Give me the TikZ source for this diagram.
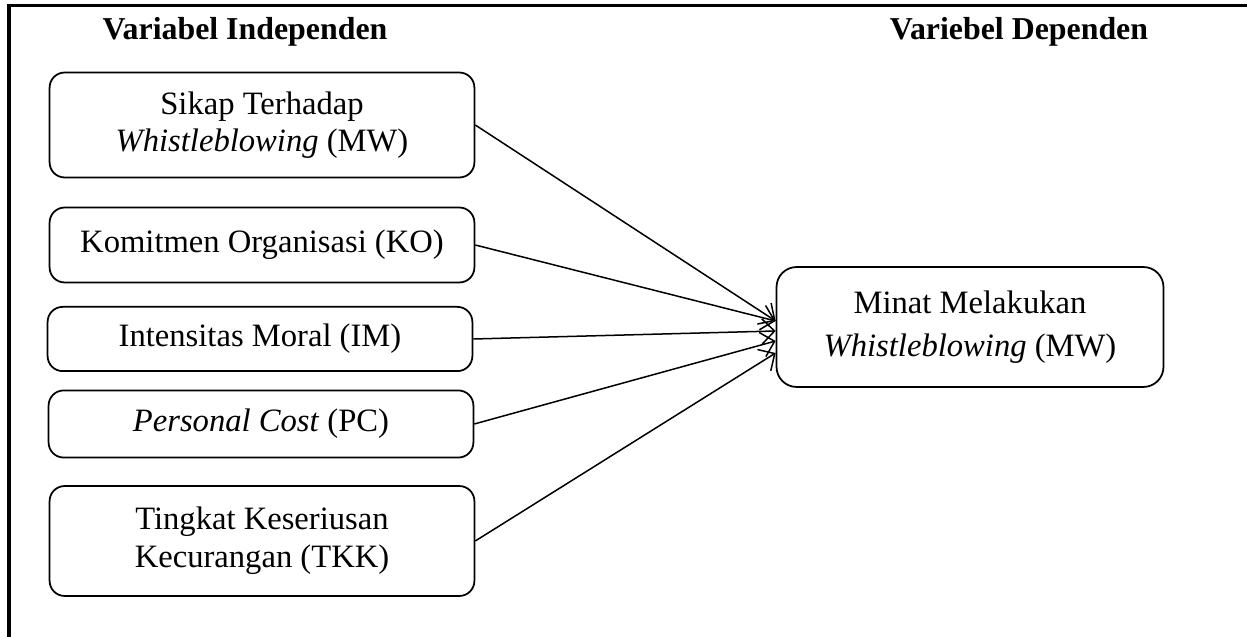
\documentclass[tikz,border=0pt]{standalone}
\usepackage{fontspec}
\setmainfont{Liberation Serif}
\usetikzlibrary{arrows.meta}
\tikzset{
    var/.style = {
        draw, rectangle, rounded corners=6pt, align=center,
        line width=0.7pt,
        inner sep=0,
        minimum width=5.95cm,
        font=\fontsize{13}{15}\selectfont
    },
    head/.style = {
        anchor=base, inner sep=0,
        font=\fontsize{12.7}{15}\selectfont\bfseries
    },
    link/.style = {
        -{Straight Barb[length=5pt,width=10pt]}, line width=0.6pt
    }
}

\begin{document}
\begin{tikzpicture}[x=0.014cm,y=-0.014cm]

% 1. page and frame
\useasboundingbox (0,0) rectangle (1247,637);
\draw[line width=1.2pt] (9,637) -- (9,5.5) -- (1247,5.5);

% 2. headings
\node[head] (hind) at (245,40) {Variabel Independen};
\node[head] (hdep) at (1019,40) {Variebel Dependen};

% 3. variable boxes
\node[var,minimum height=1.47cm] (SW)  at (262,125) {Sikap Terhadap\\ \textit{Whistleblowing} (MW)};
\node[var,minimum height=1.05cm] (KO)  at (262,245) {Komitmen Organisasi (KO)};
\node[var,minimum height=0.9cm]  (IM)  at (260,339) {Intensitas Moral (IM)};
\node[var,minimum height=0.94cm] (PC)  at (261,424) {\textit{Personal Cost} (PC)};
\node[var,minimum height=1.54cm] (TKK) at (262,541) {Tingkat Keseriusan\\ Kecurangan (TKK)};
\node[var,minimum width=5.42cm,minimum height=1.68cm,rounded corners=8pt,
  font=\fontsize{13}{17}\selectfont] (MW) at (970,327)
  {Minat Melakukan\\ \textit{Whistleblowing} (MW)};

% 4. arrows
\draw[link] (SW.east)  -- ([yshift= 0.084cm]MW.west);
\draw[link] (KO.east)  -- ([yshift= 0.084cm]MW.west);
\draw[link] (IM.east)  -- ([yshift=-0.056cm]MW.west);
\draw[link] (PC.east)  -- ([yshift=-0.196cm]MW.west);
\draw[link] (TKK.east) -- ([yshift=-0.364cm]MW.west);

\end{tikzpicture}
\end{document}
